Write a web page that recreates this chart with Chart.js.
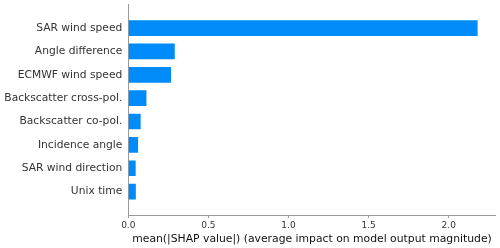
<!DOCTYPE html>
<html>
<head>
<meta charset="utf-8">
<script src="https://cdn.jsdelivr.net/npm/chart.js@4"></script>
<style>
  html, body { margin: 0; padding: 0; background: #fff; }
  #wrap { width: 500px; height: 248px; }
</style>
</head>
<body>
<div id="wrap"><canvas id="shapChart" width="500" height="248"></canvas></div>
<script>
// features, top to bottom
const features = [
    "SAR wind speed",
    "Angle difference",
    "ECMWF wind speed",
    "Backscatter cross-pol.",
    "Backscatter co-pol.",
    "Incidence angle",
    "SAR wind direction",
    "Unix time"
];
// mean(|SHAP value|) per feature
const meanShap = [2.18, 0.29, 0.267, 0.113, 0.077, 0.061, 0.046, 0.047];
const xTicks = [0.0, 0.5, 1.0, 1.5, 2.0];
const xMax = 2.293;

const barColor = "#008bfb";
const textColor = "#333333";
const axisColor = "#9a9a9a";
const fontFamily = "'DejaVu Sans', sans-serif";

document.addEventListener("DOMContentLoaded", function () {
    const points = meanShap.map((v, i) => ({ x: v, y: i }));

    new Chart(document.getElementById("shapChart"), {
        type: "bar",
        data: {
            datasets: [{
                data: points,
                backgroundColor: barColor,
                borderWidth: 0,
                barPercentage: 0.67,
                categoryPercentage: 1.0
            }]
        },
        options: {
            indexAxis: "y",
            responsive: false,
            animation: false,
            layout: { padding: { top: 4.7, right: 4.3, left: 0, bottom: 0 } },
            plugins: {
                legend: { display: false },
                tooltip: { enabled: false }
            },
            scales: {
                y: {
                    type: "linear",
                    offset: false,
                    min: -1,
                    max: features.length,
                    reverse: true,
                    afterBuildTicks: scale => {
                        scale.ticks = features.map((f, i) => ({ value: i }));
                    },
                    afterFit: scale => {
                        scale.width = 128.3;
                        // labels sit well inside the axis, no edge padding needed
                        scale.paddingTop = 0;
                        scale.paddingBottom = 0;
                    },
                    grid: { display: false, drawTicks: false },
                    border: { display: true, color: axisColor, width: 1 },
                    ticks: {
                        padding: 6,
                        color: textColor,
                        font: { family: fontFamily, size: 10.7 },
                        callback: v => features[v] || ""
                    }
                },
                x: {
                    type: "linear",
                    min: 0,
                    max: xMax,
                    afterBuildTicks: scale => {
                        scale.ticks = xTicks.map(v => ({ value: v }));
                    },
                    afterFit: scale => {
                        scale.height = 33;
                        scale.paddingLeft = 0;
                        scale.paddingRight = 0;
                    },
                    grid: {
                        display: true,
                        drawOnChartArea: false,
                        drawTicks: true,
                        tickLength: 3,
                        color: axisColor
                    },
                    border: { display: true, color: axisColor, width: 1 },
                    ticks: {
                        padding: 2,
                        color: textColor,
                        maxRotation: 0,
                        font: { family: fontFamily, size: 9 },
                        callback: v => v.toFixed(1)
                    },
                    title: {
                        display: true,
                        text: "mean(|SHAP value|) (average impact on model output magnitude)",
                        color: "#111111",
                        font: { family: fontFamily, size: 10.8 },
                        padding: { top: 0, bottom: 2.4 }
                    }
                }
            }
        }
    });
});
</script>
</body>
</html>
